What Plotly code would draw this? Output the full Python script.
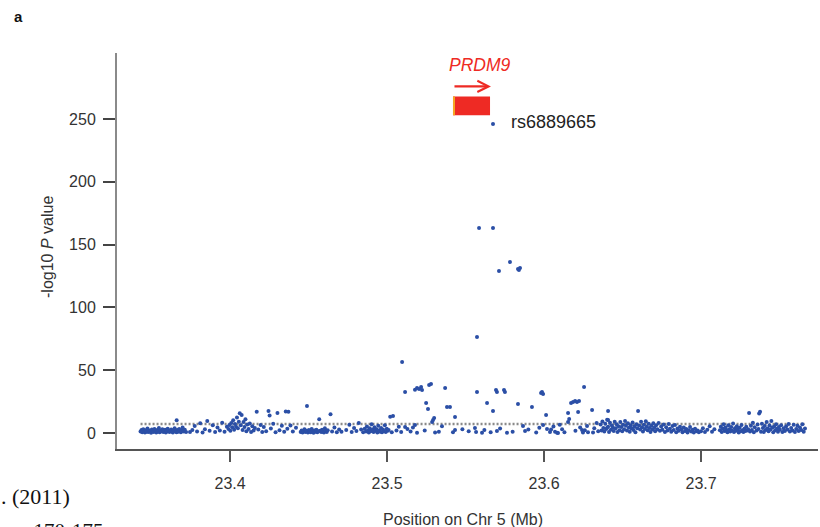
import plotly.graph_objects as go

# ---------------- data ----------------
# background SNPs, position (Mb) and -log10 P
bg_pos = [
    23.3430, 23.3436, 23.3441, 23.3447, 23.3452, 23.3458, 23.3463, 23.3469, 23.3474, 23.3480,
    23.3486, 23.3491, 23.3497, 23.3502, 23.3508, 23.3513, 23.3519, 23.3525, 23.3530, 23.3536,
    23.3541, 23.3547, 23.3552, 23.3558, 23.3564, 23.3569, 23.3575, 23.3580, 23.3586, 23.3591,
    23.3597, 23.3603, 23.3608, 23.3614, 23.3619, 23.3625, 23.3631, 23.3636, 23.3642, 23.3647,
    23.3653, 23.3659, 23.3664, 23.3670, 23.3676, 23.3681, 23.3687, 23.3692, 23.3698, 23.3705,
    23.3712, 23.3720, 23.3660,
    23.3745, 23.3760, 23.3775, 23.3790, 23.3810, 23.3825, 23.3840, 23.3855, 23.3870, 23.3890,
    23.3905, 23.3920, 23.3935, 23.3950, 23.3965, 23.3980,
    23.3990, 23.3996, 23.4002, 23.4008, 23.4014, 23.4020, 23.4026, 23.4032, 23.4038, 23.4044,
    23.4050, 23.4056, 23.4062, 23.4068, 23.4074, 23.4080, 23.4086, 23.4092, 23.4098, 23.4104,
    23.4110, 23.4118, 23.4126, 23.4134, 23.4142, 23.4150, 23.4158,
    23.4170, 23.4180, 23.4195, 23.4205, 23.4215, 23.4230, 23.4245, 23.4252, 23.4260, 23.4275,
    23.4290, 23.4302, 23.4315, 23.4330, 23.4345, 23.4355, 23.4365, 23.4372, 23.4385, 23.4400,
    23.4420, 23.4490,
    23.4450, 23.4456, 23.4462, 23.4468, 23.4474, 23.4480, 23.4486, 23.4496, 23.4502, 23.4508,
    23.4514, 23.4520, 23.4526, 23.4532, 23.4538, 23.4544, 23.4550, 23.4556, 23.4562, 23.4568,
    23.4574, 23.4580, 23.4586, 23.4592, 23.4598, 23.4604, 23.4610, 23.4616, 23.4622, 23.4640,
    23.4650, 23.4665, 23.4680, 23.4695, 23.4710,
    23.4740, 23.4760, 23.4775, 23.4790, 23.4805, 23.4820, 23.4835, 23.4848, 23.4858, 23.4866,
    23.4872, 23.4878, 23.4884, 23.4890, 23.4896, 23.4902, 23.4908, 23.4914, 23.4920, 23.4926,
    23.4932, 23.4938, 23.4944, 23.4950, 23.4956, 23.4962, 23.4968, 23.4974, 23.4980, 23.4986,
    23.4992, 23.4998, 23.5004, 23.5010, 23.5020, 23.5030,
    23.5060, 23.5075, 23.5090, 23.5115, 23.5130, 23.5150, 23.5165, 23.5178, 23.5191, 23.5240,
    23.5306, 23.5330, 23.5350, 23.5420, 23.5433, 23.5480, 23.5520, 23.5560, 23.5567, 23.5605,
    23.5620, 23.5660, 23.5700, 23.5720, 23.5764, 23.5800, 23.5866, 23.5879, 23.5900, 23.5950,
    23.5970, 23.5994, 23.6019, 23.6038, 23.6083, 23.6089, 23.6153, 23.6242, 23.6248, 23.6274,
    23.6312, 23.6401,
    23.6045, 23.6060, 23.6070, 23.6100, 23.6115, 23.6130, 23.6200, 23.6230, 23.6260, 23.6280,
    23.6320, 23.6335, 23.6345,
    23.6360, 23.6366, 23.6372, 23.6378, 23.6384, 23.6390, 23.6396, 23.6402, 23.6408, 23.6414,
    23.6420, 23.6426, 23.6432, 23.6438, 23.6444, 23.6450, 23.6456, 23.6462, 23.6468, 23.6474,
    23.6480, 23.6486, 23.6492, 23.6498, 23.6504, 23.6510, 23.6516, 23.6522, 23.6528, 23.6534,
    23.6540, 23.6546, 23.6552, 23.6558, 23.6564, 23.6570, 23.6576, 23.6582, 23.6588, 23.6594,
    23.6606, 23.6612, 23.6618, 23.6624, 23.6630, 23.6636, 23.6642, 23.6648, 23.6654, 23.6660,
    23.6666, 23.6672, 23.6678, 23.6684, 23.6690, 23.6696, 23.6702, 23.6708, 23.6714, 23.6722,
    23.6730, 23.6738, 23.6746, 23.6754, 23.6762, 23.6770, 23.6778, 23.6786, 23.6794, 23.6802,
    23.6810, 23.6818, 23.6826, 23.6834, 23.6842, 23.6850, 23.6858, 23.6866, 23.6874, 23.6882,
    23.6890, 23.6898, 23.6906, 23.6914, 23.6922, 23.6930, 23.6938, 23.6946, 23.6954, 23.6962,
    23.6970, 23.6978, 23.6986,
    23.7000, 23.7012, 23.7025, 23.7040, 23.7055, 23.7070, 23.7085,
    23.7120, 23.7126, 23.7132, 23.7138, 23.7144, 23.7150, 23.7156, 23.7162, 23.7168, 23.7174,
    23.7180, 23.7186, 23.7192, 23.7198, 23.7204, 23.7210, 23.7216, 23.7222, 23.7228, 23.7234,
    23.7240, 23.7246, 23.7252, 23.7258, 23.7264, 23.7270, 23.7276, 23.7282, 23.7288, 23.7294,
    23.7300, 23.7306, 23.7312, 23.7318, 23.7324, 23.7330, 23.7336, 23.7342, 23.7354, 23.7360,
    23.7366, 23.7370, 23.7376, 23.7382, 23.7388, 23.7394, 23.7400, 23.7406, 23.7412, 23.7418,
    23.7424, 23.7430, 23.7436, 23.7442, 23.7448, 23.7454, 23.7460, 23.7466, 23.7472, 23.7478,
    23.7484, 23.7490, 23.7496, 23.7502, 23.7510, 23.7518, 23.7526, 23.7534, 23.7542, 23.7550,
    23.7558, 23.7566, 23.7574, 23.7582, 23.7590, 23.7598, 23.7606, 23.7614, 23.7622, 23.7630,
    23.7638, 23.7646, 23.7654, 23.7662,
]
bg_val = [
    1.2, 2.5, 0.6, 3.1, 1.8, 0.4, 2.2, 1.1, 3.6, 0.9,
    2.0, 1.4, 0.3, 2.8, 1.6, 0.8, 3.3, 1.9, 0.5, 2.4,
    1.2, 4.1, 0.7, 2.1, 1.5, 3.0, 0.9, 1.7, 2.6, 0.4,
    1.3, 3.4, 2.0, 0.8, 1.6, 2.9, 1.0, 0.5, 2.3, 3.8,
    1.4, 0.7, 2.5, 1.1, 3.2, 1.9, 0.6, 2.2, 4.5, 1.3,
    2.7, 0.9, 10.1,
    0.8, 2.4, 5.6, 1.2, 7.8, 0.5, 3.1, 9.5, 1.8, 6.2,
    0.9, 4.4, 2.0, 8.3, 1.1, 5.0,
    3.2, 6.5, 1.8, 8.1, 4.6, 10.2, 2.7, 7.3, 5.1, 12.4,
    3.9, 9.0, 15.8, 6.2, 14.3, 2.4, 8.7, 4.8, 11.0, 1.5,
    6.9, 3.3, 7.7, 0.9, 5.4, 2.1, 4.0,
    17.0, 2.8, 6.4, 0.8, 4.9, 1.5, 17.5, 14.0, 3.6, 7.5,
    0.6, 16.0, 2.2, 5.8, 1.0, 17.2, 3.4, 17.0, 6.1, 1.3,
    4.2, 21.5,
    0.8, 2.1, 0.4, 1.6, 3.0, 0.9, 1.9, 0.5, 2.4, 1.2,
    0.7, 3.3, 1.5, 0.3, 2.0, 1.0, 2.7, 0.6, 1.4, 11.0,
    1.8, 0.9, 2.6, 1.1, 0.5, 3.8, 1.7, 0.8, 2.2, 15.0,
    1.3, 4.5, 0.7, 2.9, 1.0,
    2.4, 6.6, 0.9, 4.1, 1.6, 8.0, 2.9, 0.6, 3.5, 1.2,
    5.2, 2.0, 0.5, 3.9, 1.4, 7.0, 2.6, 0.8, 4.7, 1.9,
    3.0, 0.4, 5.8, 2.3, 1.1, 4.0, 0.7, 2.8, 1.5, 6.3,
    0.9, 3.4, 1.8, 2.5, 13.0, 0.6,
    2.0, 5.0, 0.8, 4.8, 3.3, 1.2, 4.5, 6.4, 0.3, 2.0,
    0.4, 1.0, 5.5, 0.6, 2.4, 3.0, 1.4, 4.0, 0.8, 0.2,
    2.5, 0.6, 1.6, 3.7, 0.2, 1.0, 5.6, 1.6, 2.8, 0.5,
    4.2, 6.4, 3.2, 0.8, 0.3, 0.1, 8.8, 2.4, 0.5, 5.6,
    0.4, 4.0,
    2.8, 5.2, 1.0, 6.6, 3.0, 0.7, 1.8, 4.4, 2.2, 0.6,
    3.8, 8.0, 1.5,
    6.8, 2.1, 9.2, 4.0, 1.2, 7.5, 3.3, 10.5, 5.1, 0.8,
    8.2, 2.7, 6.0, 4.4, 1.6, 9.0, 3.8, 7.1, 0.9, 5.5,
    2.3, 8.7, 4.9, 1.4, 6.6, 3.0, 9.6, 5.8, 2.0, 7.9,
    4.2, 1.1, 6.3, 3.6, 8.4, 2.5, 5.2, 0.7, 7.0, 3.9,
    6.1, 2.9, 8.9, 4.6, 1.3, 6.7, 3.2, 9.4, 5.0, 2.2,
    7.4, 4.1, 0.9, 5.9, 2.8, 7.8, 4.3, 1.5, 6.2, 3.1,
    8.0, 1.9, 5.3, 2.6, 6.9, 0.8, 4.7, 2.0, 7.2, 3.5,
    1.0, 5.6, 2.4, 6.4, 0.6, 3.7, 1.8, 5.0, 2.9, 0.7,
    4.4, 1.6, 3.2, 0.5, 2.3, 4.9, 1.2, 2.7, 0.4, 3.5,
    1.4, 2.1, 0.6,
    1.5, 3.8, 0.8, 2.6, 5.4, 1.1, 3.0,
    2.2, 5.1, 0.9, 3.6, 7.0, 1.7, 4.4, 2.5, 0.6, 6.2,
    3.1, 1.3, 4.8, 2.0, 7.6, 0.8, 3.9, 1.8, 5.5, 2.7,
    0.5, 4.2, 1.4, 6.5, 2.3, 0.9, 3.4, 1.6, 5.0, 2.1,
    3.0, 16.0, 1.2, 5.8, 2.5, 8.3, 0.7, 4.6, 2.0, 6.9,
    3.3, 15.5, 17.0, 1.0, 7.4, 4.1, 0.8, 5.6, 2.4, 8.8,
    3.7, 1.5, 6.0, 2.9, 9.5, 4.4, 0.6, 5.2, 2.2, 7.1,
    3.5, 1.1, 4.9, 2.6, 6.2, 0.9, 3.8, 1.7, 5.5, 2.8,
    7.3, 1.2, 4.0, 2.1, 6.7, 0.8, 3.3, 5.9, 1.6, 4.5,
    2.5, 7.0, 1.0, 3.6,
]

# associated SNPs above the background
peak_pos = [
    23.5096, 23.5115, 23.5178, 23.5191, 23.5204, 23.5217, 23.5223, 23.5268, 23.5280, 23.5370,
    23.5249, 23.5261, 23.5382, 23.5401, 23.5287, 23.5293, 23.5300, 23.5433, 23.5038,
    23.5573, 23.5573, 23.5586, 23.5675, 23.5637, 23.5675, 23.5694, 23.5700, 23.5713, 23.5745,
    23.5751, 23.5783, 23.5834, 23.5840, 23.5847, 23.5834, 23.5923, 23.5981, 23.5987, 23.5994,
    23.6013, 23.6153, 23.6160, 23.6172, 23.6185, 23.6198, 23.6210, 23.6223, 23.6217, 23.6255,
    23.6306, 23.6408, 23.6408, 23.6599,
]
peak_val = [
    56.5, 32.6, 34.5, 35.8, 35.0, 36.6, 34.2, 38.2, 39.0, 35.8,
    23.9, 19.1, 20.7, 20.7, 8.8, 10.4, 12.0, 12.7, 13.5,
    32.6, 76.4, 163.2, 163.2, 23.9, 17.5, 34.2, 32.6, 129.0, 34.2,
    32.6, 136.1, 130.6, 129.8, 131.4, 23.1, 20.7, 31.8, 32.6, 31.0,
    14.3, 15.9, 11.1, 23.9, 24.7, 25.5, 24.7, 25.5, 16.7, 36.6,
    18.3, 17.5, 10.4, 17.5,
]

# lead SNP
lead_id = "rs6889665"
lead_pos = [23.5675]
lead_val = [246.0]

# gene model
gene_name = "PRDM9"
gene_start, gene_end = 23.5420, 23.5656
threshold = 7.3           # genome-wide significance, -log10(5e-8)
x_ticks = [23.4, 23.5, 23.6, 23.7]
y_ticks = [0, 50, 100, 150, 200, 250]

# ---------------- figure ----------------
W, H = 820, 527
ML, MR, MT, MB = 117, 2, 53, 78
PW, PH = W - ML - MR, H - MT - MB

def px(xp):
    return (xp - ML) / PW

def py(yp):
    return (H - MB - yp) / PH

BLUE = "#2b4fa6"
RED = "#ee2a24"
FONT = "Liberation Sans, Arial, sans-serif"
SERIF = "Liberation Serif, Times New Roman, serif"

fig = go.Figure()
fig.add_trace(go.Scatter(
    x=bg_pos + peak_pos + lead_pos, y=bg_val + peak_val + lead_val,
    mode="markers", marker=dict(color=BLUE, size=4, line=dict(width=0)),
    hoverinfo="x+y", showlegend=False,
))

shapes = [
    dict(type="line", xref="x", yref="y", x0=min(bg_pos), x1=max(bg_pos),
         y0=threshold, y1=threshold, layer="below",
         line=dict(color="#8a8a8a", width=2.5, dash="2px,2px")),
    dict(type="rect", xref="x", yref="y", x0=gene_start, x1=gene_end, y0=253, y1=268,
         fillcolor=RED, line=dict(width=0)),
    dict(type="rect", xref="x", yref="y", x0=gene_start, x1=gene_start + 0.0013, y0=253, y1=268,
         fillcolor="#f5a623", line=dict(width=0)),
]

annotations = [
    dict(x=gene_end + 0.0006, y=276.0, ax=gene_start, ay=276.0, xref="x", yref="y",
         axref="x", ayref="y", showarrow=True, arrowhead=5, arrowsize=1, arrowwidth=2.2,
         arrowcolor=RED, text=""),
    dict(x=23.5589, y=293, xref="x", yref="y", text="<i>" + gene_name + "</i>",
         showarrow=False, font=dict(family=FONT, size=17.5, color=RED)),
    dict(x=lead_pos[0] + 0.0103, y=lead_val[0] + 1.5, xref="x", yref="y", text=lead_id,
         showarrow=False, xanchor="left", yanchor="middle",
         font=dict(family=FONT, size=18, color="#222222")),
    dict(x=px(47), y=py(247), xref="paper", yref="paper", text="-log10 <i>P</i> value",
         textangle=-90, showarrow=False, xanchor="center", yanchor="middle",
         font=dict(family=FONT, size=16, color="#333333")),
    dict(x=px(463), y=py(519), xref="paper", yref="paper", text="Position on Chr 5 (Mb)",
         showarrow=False, xanchor="center", yanchor="middle",
         font=dict(family=FONT, size=16, color="#333333")),
    dict(x=px(18), y=py(16), xref="paper", yref="paper", text="<b>a</b>",
         showarrow=False, xanchor="center", yanchor="middle",
         font=dict(family=FONT, size=15, color="#111111")),
    dict(x=px(-1), y=py(497), xref="paper", yref="paper", text=". (2011)",
         showarrow=False, xanchor="left", yanchor="middle",
         font=dict(family=SERIF, size=22, color="#111111")),
    dict(x=px(20), y=py(531), xref="paper", yref="paper", text="–170-175",
         showarrow=False, xanchor="left", yanchor="middle",
         font=dict(family=SERIF, size=21, color="#111111")),
]

TICKFONT = dict(family=FONT, size=16, color="#333333")

fig.update_layout(
    width=W, height=H,
    margin=dict(l=ML, r=MR, t=MT, b=MB, pad=0),
    paper_bgcolor="white", plot_bgcolor="white",
    shapes=shapes, annotations=annotations,
    font=dict(family=FONT, size=16, color="#333333"),
    xaxis=dict(range=[23.328, 23.7745], tickvals=x_ticks, ticktext=[f"{v:.1f}" for v in x_ticks],
               showgrid=False, zeroline=False, showline=True, linecolor="#555555", linewidth=1.5,
               ticks="outside", ticklen=11, tickwidth=1.5, tickcolor="#555555",
               ticklabelstandoff=8, tickfont=TICKFONT),
    yaxis=dict(range=[-12.7, 302.6], tickvals=y_ticks, ticktext=[str(v) for v in y_ticks],
               showgrid=False, zeroline=False, showline=True, linecolor="#8a8a8a", linewidth=2,
               ticks="outside", ticklen=12, tickwidth=1.5, tickcolor="#444444",
               ticklabelstandoff=4, tickfont=TICKFONT),
)

fig.write_html(
    "out.html",
    config={"displayModeBar": False},
    post_script="document.body.style.margin='0';document.body.style.overflow='hidden';",
)
